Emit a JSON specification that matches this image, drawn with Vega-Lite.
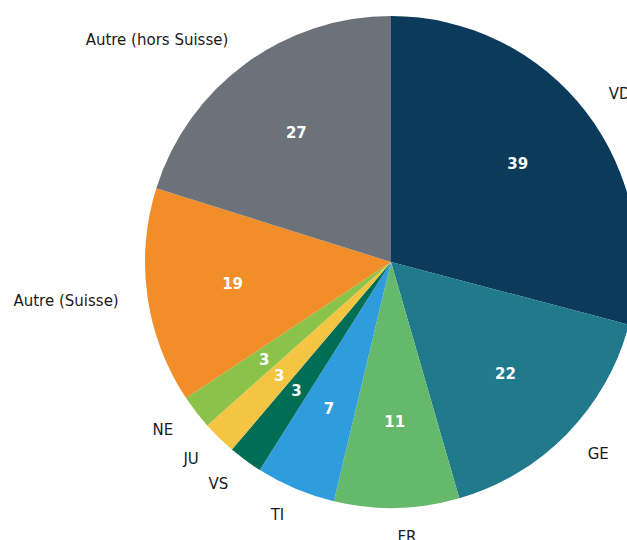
{
  "$schema": "https://vega.github.io/schema/vega-lite/v6.json",
  "width": 782,
  "height": 524,
  "autosize": {"type": "none"},
  "padding": {"top": 0, "left": 0, "right": 0, "bottom": 40},
  "background": "white",
  "config": {"view": {"stroke": null}, "font": "DejaVu Sans"},
  "data": {"values": [
    {"i": 1, "canton": "VD", "n": 39},
    {"i": 2, "canton": "GE", "n": 22},
    {"i": 3, "canton": "FR", "n": 11},
    {"i": 4, "canton": "TI", "n": 7},
    {"i": 5, "canton": "VS", "n": 3},
    {"i": 6, "canton": "JU", "n": 3},
    {"i": 7, "canton": "NE", "n": 3},
    {"i": 8, "canton": "Autre (Suisse)", "n": 19},
    {"i": 9, "canton": "Autre (hors Suisse)", "n": 27}
  ]},
  "encoding": {
    "theta": {"field": "n", "type": "quantitative", "stack": true},
    "order": {"field": "i", "type": "quantitative"}
  },
  "layer": [
    {
      "mark": {"type": "arc", "outerRadius": 246},
      "encoding": {
        "color": {
          "field": "canton", "type": "nominal", "legend": null,
          "scale": {
            "domain": ["VD", "GE", "FR", "TI", "VS", "JU", "NE", "Autre (Suisse)", "Autre (hors Suisse)"],
            "range": ["#0c3a5b", "#217a8b", "#66b96b", "#2f9ddd", "#006e55", "#f4c542", "#8bc34a", "#f18e29", "#6b7279"]
          }
        }
      }
    },
    {
      "mark": {"type": "text", "radius": 160, "fontSize": 15, "fontWeight": "bold", "color": "white", "baseline": "middle", "align": "center"},
      "encoding": {"text": {"field": "n", "type": "quantitative"}}
    },
    {
      "mark": {"type": "text", "radius": 275, "fontSize": 15, "color": "#1a1a1a", "baseline": "middle", "align": "left"},
      "encoding": {"text": {"condition": {"test": "indexof(['VD','GE','FR'], datum.canton) >= 0", "field": "canton"}, "value": ""}}
    },
    {
      "mark": {"type": "text", "radius": 275, "fontSize": 15, "color": "#1a1a1a", "baseline": "middle", "align": "right"},
      "encoding": {"text": {"condition": {"test": "indexof(['VD','GE','FR'], datum.canton) < 0", "field": "canton"}, "value": ""}}
    }
  ]
}
